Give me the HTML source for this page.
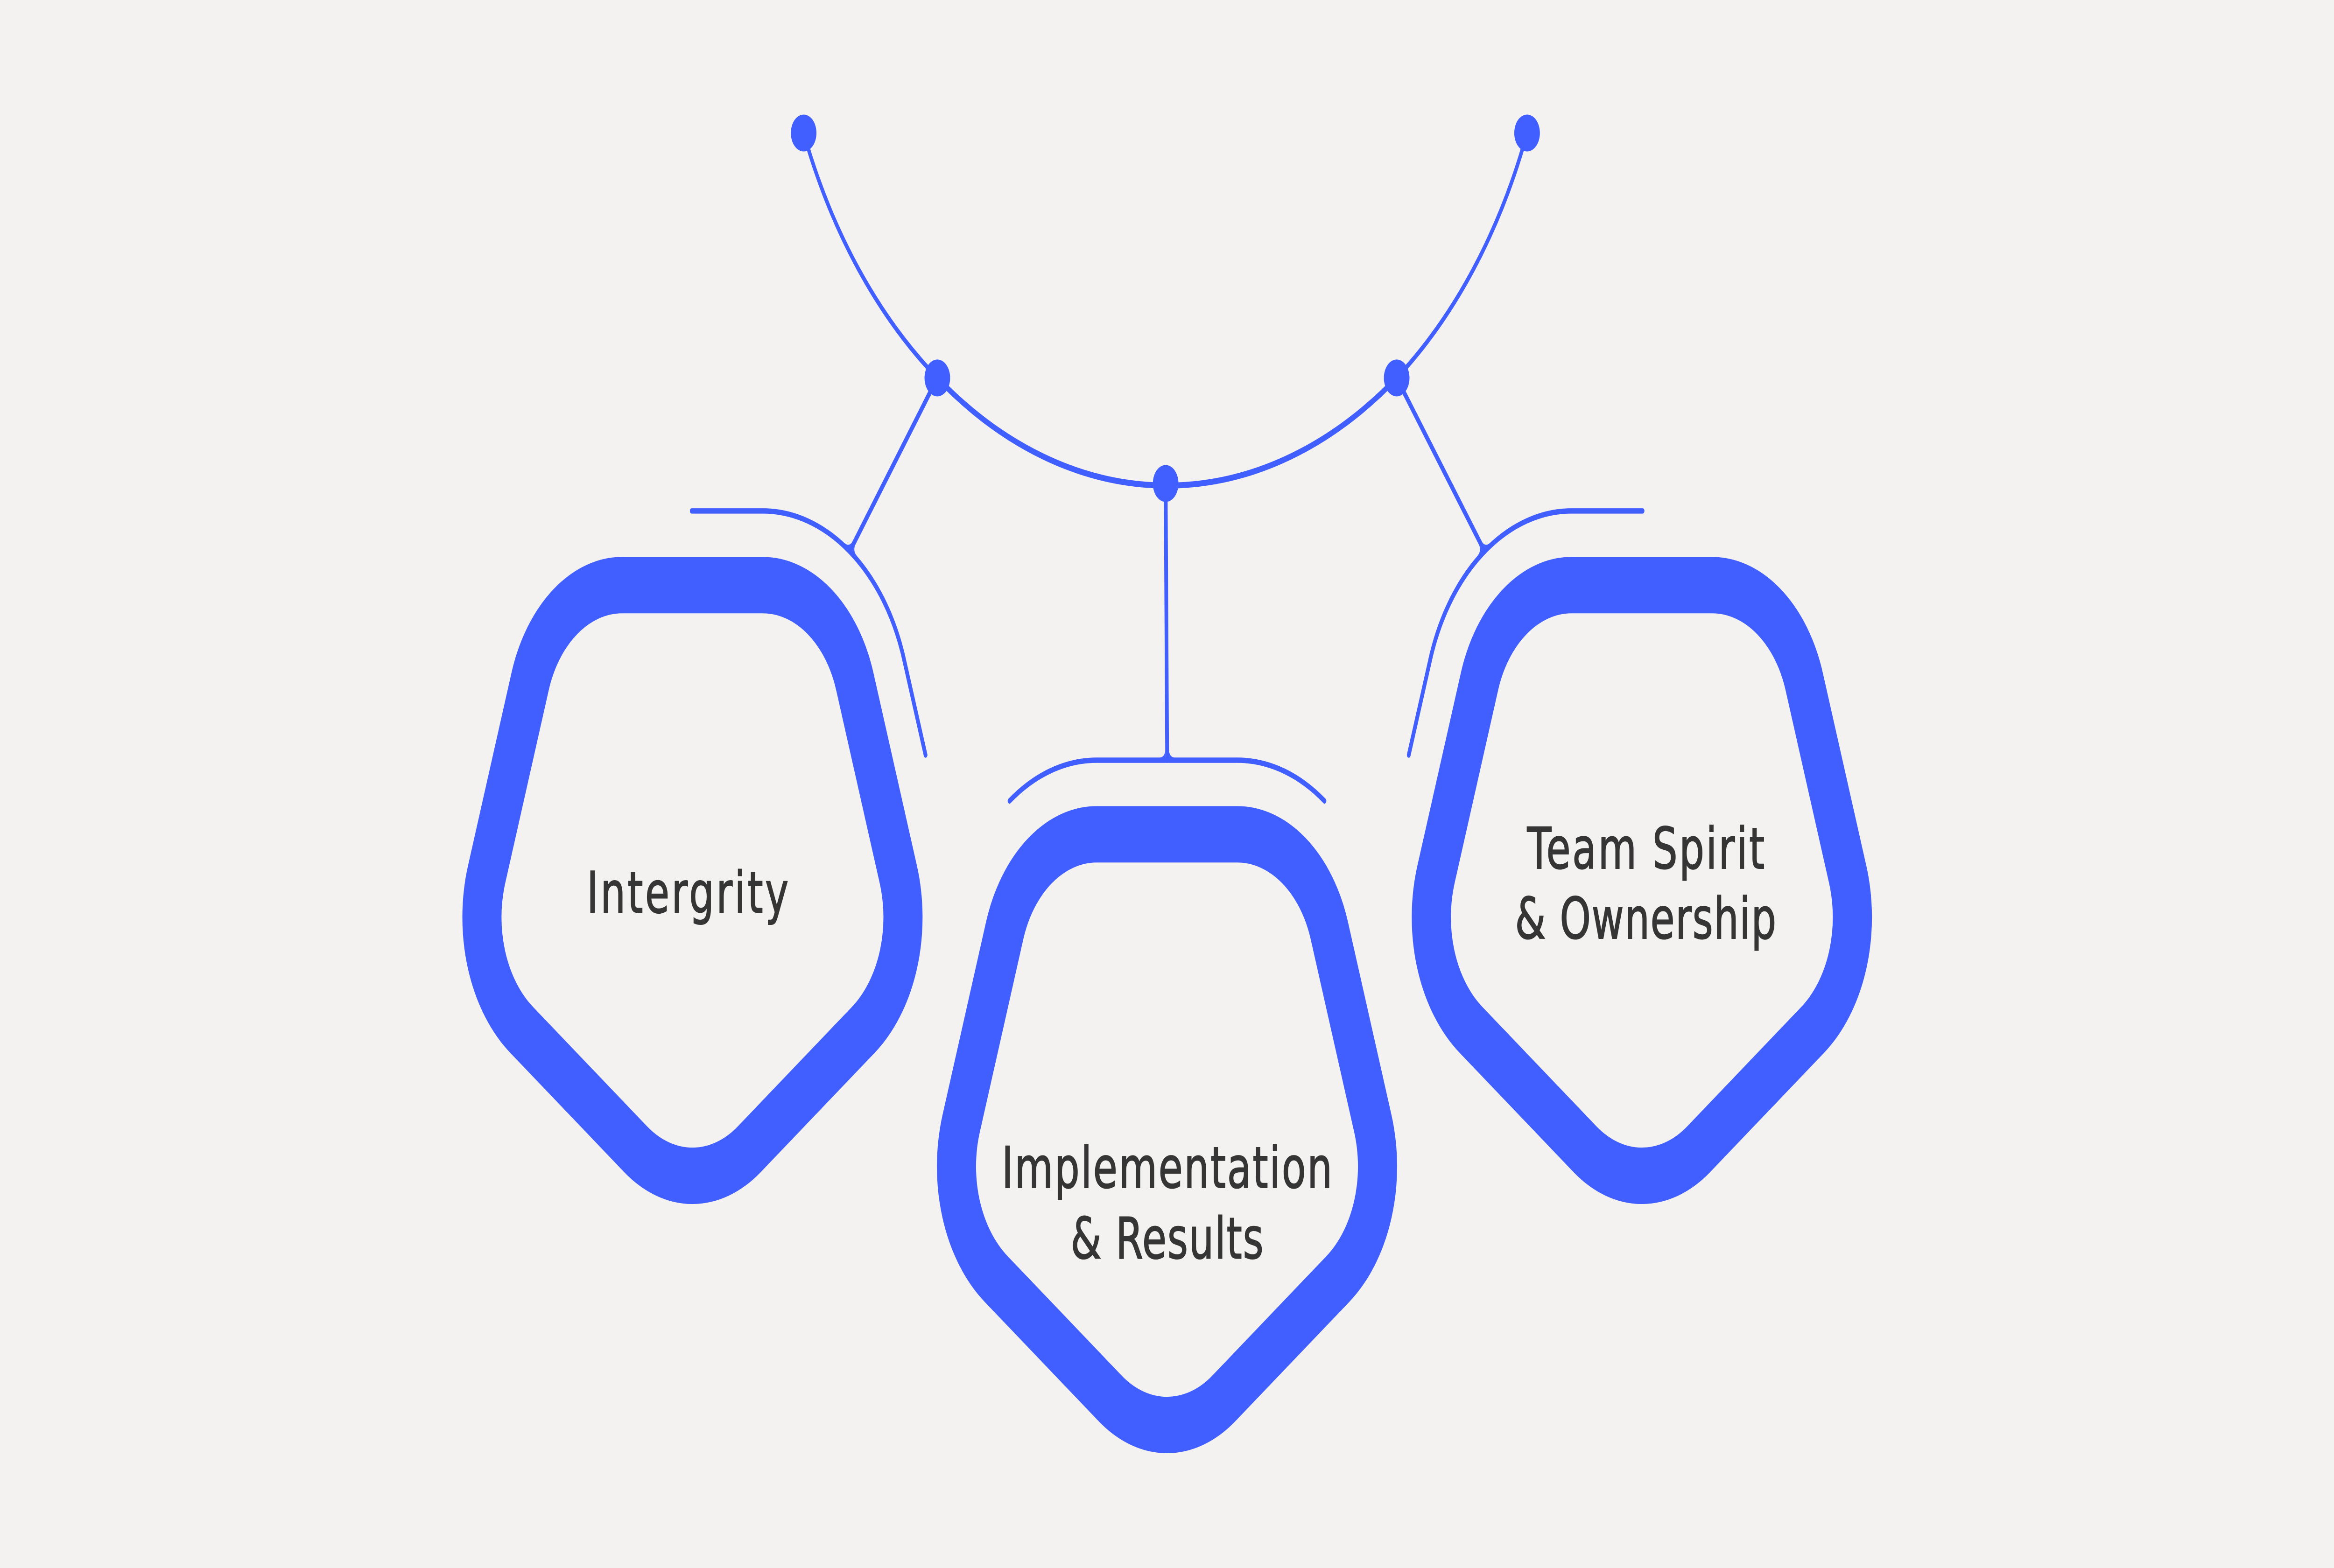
<!DOCTYPE html>
<html>
<head>
<meta charset="utf-8">
<style>
  html,body{margin:0;padding:0;background:#f3f2f0;width:100%;height:100%;overflow:hidden;}
  svg{display:block;width:100vw;height:100vh;}
</style>
</head>
<body>
<svg viewBox="0 0 1568 731" preserveAspectRatio="none" xmlns="http://www.w3.org/2000/svg">
  <rect x="0" y="0" width="1568" height="731" fill="#f3f2f0"/>
  <defs>
    <path id="pent" d="M -47.24 -130.01 L 47.24 -130.01 A 65 65 0 0 1 109.06 -85.10 L 138.25 4.74 A 65 65 0 0 1 114.64 77.42 L 38.21 132.95 A 65 65 0 0 1 -38.21 132.95 L -114.64 77.42 A 65 65 0 0 1 -138.25 4.74 L -109.06 -85.10 A 65 65 0 0 1 -47.24 -130.01 Z"/>
    <g id="fillets">
      <path d="M -4.75 -1.25 A 3.5 3.5 0 0 0 -1.25 -4.75 L -1.25 0.5 L -4.75 0.5 Z"/>
      <path d="M 4.75 -1.25 A 3.5 3.5 0 0 1 1.25 -4.75 L 1.25 0.5 L 4.75 0.5 Z"/>
    </g>
  </defs>

  <g fill="none" stroke="#415fff" stroke-linecap="round" stroke-linejoin="round">
    <path d="M 539.9 62 A 262.4 262.4 0 0 0 629.7 176.2" stroke-width="2.3"/>
    <path d="M 938.3 176.2 A 262.4 262.4 0 0 0 1025.9 62" stroke-width="2.3"/>
    <path d="M 629.7 176.2 A 262.4 262.4 0 0 0 938.3 176.2" stroke-width="2.8"/>

    <path d="M 629.7 176.2 L 570.8 257.1" stroke-width="2.5"/>
    <path d="M 938.3 176.2 L 997.4 257.1" stroke-width="2.5"/>
    <path d="M 783.1 225.4 L 784.1 354.4" stroke-width="2.5"/>

    <path d="M 464.7 238.2 L 512.5 238.2 A 99.6 99.6 0 0 1 607.2 307.0 L 621.8 352" stroke-width="2.5"/>
    <path d="M 1103.5 238.2 L 1055.7 238.2 A 99.6 99.6 0 0 0 961.0 307.0 L 946.4 352" stroke-width="2.5"/>
    <path d="M 678.2 373.4 A 99.6 99.6 0 0 1 736.7 354.4 L 831.3 354.4 A 99.6 99.6 0 0 1 889.8 373.4" stroke-width="2.5"/>

    <use href="#pent" transform="translate(465.2 402.8)" stroke-width="26.3"/>
    <use href="#pent" transform="translate(784 518.96)" stroke-width="26.3"/>
    <use href="#pent" transform="translate(1103 402.8)" stroke-width="26.3"/>
  </g>

  <g fill="#415fff">
    <use href="#fillets" transform="translate(570.8 257.1) rotate(36)"/>
    <use href="#fillets" transform="translate(997.4 257.1) rotate(-36)"/>
    <use href="#fillets" transform="translate(784.1 354.4)"/>
    <circle cx="539.9" cy="62" r="8.6"/>
    <circle cx="1025.9" cy="62" r="8.6"/>
    <circle cx="629.7" cy="176.2" r="8.6"/>
    <circle cx="938.3" cy="176.2" r="8.6"/>
    <circle cx="783.1" cy="225.4" r="8.6"/>
  </g>

  <g fill="#353535" stroke="#353535" stroke-width="0.45" font-family="'DejaVu Sans', 'Liberation Sans', sans-serif" font-size="26.5">
    <text x="394.2" y="425.4" textLength="135.5" lengthAdjust="spacing">Intergrity</text>
    <text x="673" y="553.7" textLength="222" lengthAdjust="spacing">Implementation</text>
    <text x="719.3" y="586.6" textLength="129.5" lengthAdjust="spacing">&amp; Results</text>
    <text x="1026" y="404.9" textLength="159.5" lengthAdjust="spacing">Team Spirit</text>
    <text x="1017.8" y="437.5" textLength="175.5" lengthAdjust="spacing">&amp; Ownership</text>
  </g>
</svg>
</body>
</html>
